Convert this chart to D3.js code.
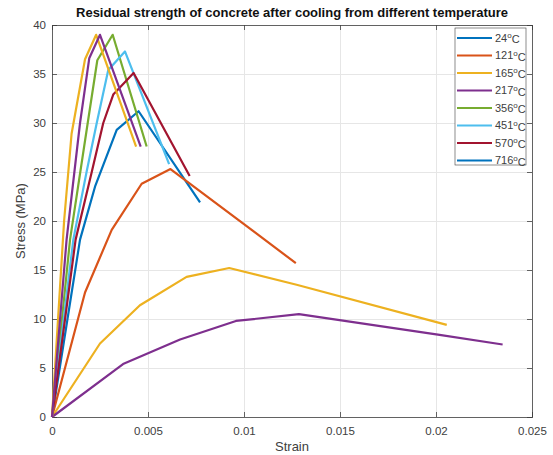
<!DOCTYPE html>
<html lang="en">

<head>
  <meta charset="UTF-8">
  <title>Residual strength of concrete</title>
  <script src="https://d3js.org/d3.v7.min.js"></script>
  <style>
    body { margin: 0; background: #fff; }
    text { font-family: 'Liberation Sans', Arial, sans-serif; }
  </style>
</head>

<body>
  <svg id='stress-strain' width=553 height=455></svg>

  <script>
    // stress-strain curves: [strain, stress (MPa)]
    const curveBlue = [[0, 0], [0.00146, 18.1], [0.00224, 23.5], [0.00337, 29.3], [0.00451, 31.2], [0.00771, 21.9]];
    const curveOrange = [[0, 0], [0.00172, 12.7], [0.00311, 19.1], [0.00467, 23.8], [0.00617, 25.3], [0.0127, 15.7]];
    const curveYellow = [[0, 0], [0.0025, 7.5], [0.00458, 11.4], [0.00701, 14.3], [0.00923, 15.2], [0.01274, 13.5], [0.02056, 9.4]];
    const curvePurple = [[0, 0], [0.0037, 5.4], [0.00667, 7.9], [0.00958, 9.8], [0.01286, 10.5], [0.0201, 8.4], [0.02347, 7.4]];
    const curveGreen = [[0, 0], [0.00094, 18.1], [0.00186, 30.0], [0.00236, 36.4], [0.00316, 39.0], [0.00493, 27.6]];
    const curveLightBlue = [[0, 0], [0.00111, 18.1], [0.0018, 25.0], [0.00233, 30.0], [0.00293, 35.4], [0.0038, 37.3], [0.0061, 25.8]];
    const curveDarkRed = [[0, 0], [0.00123, 18.1], [0.00207, 25.0], [0.00267, 30.0], [0.00319, 32.9], [0.00425, 35.1], [0.00717, 24.6]];
    const curveYellow2 = [[0, 0], [0.00063, 20.0], [0.00102, 28.9], [0.00172, 36.5], [0.0023, 39.0], [0.00438, 27.6]];
    const curvePurple2 = [[0, 0], [0.00076, 18.1], [0.00146, 30.0], [0.00194, 36.6], [0.0025, 39.0], [0.00462, 27.6]];

    // MATLAB default colour order
    const palette = ['#0072BD', '#D95319', '#EDB120', '#7E2F8E', '#77AC30', '#4DBEEE', '#A2142F'];

    const curves = [curveBlue, curveOrange, curveYellow, curvePurple, curveGreen, curveLightBlue, curveDarkRed, curveYellow2, curvePurple2];
    const curveColorIndex = [0, 1, 2, 3, 4, 5, 6, 2, 3];

    const legendLabels = ['24', '121', '165', '217', '356', '451', '570', '716'];
    const legendColorIndex = [0, 1, 2, 3, 4, 5, 6, 0];

    const xTicks = [0, 0.005, 0.01, 0.015, 0.02, 0.025];
    const yTicks = [0, 5, 10, 15, 20, 25, 30, 35, 40];

    //setting up the svg
    const svg = d3.select('svg#stress-strain');
    const margin = { top: 25, right: 21, bottom: 38, left: 52 };
    const width = +svg.attr('width');
    const height = +svg.attr('height');
    const chartWidth = width - margin.left - margin.right;
    const chartHeight = height - margin.top - margin.bottom;

    const xScale = d3.scaleLinear().domain([0, 0.025]).range([0, chartWidth]);
    const yScale = d3.scaleLinear().domain([0, 40]).range([chartHeight, 0]);

    const axisColor = '#404040';

    let annotations = svg.append('g').attr('id', 'annotations')
      .attr('transform', 'translate(' + margin.left + ', ' + margin.top + ')');
    let chartArea = svg.append('g').attr('id', 'lines')
      .attr('transform', 'translate(' + margin.left + ', ' + margin.top + ')');

    //gridlines
    annotations.append('g')
      .attr('class', 'x-gridlines')
      .attr('transform', 'translate(0, ' + chartHeight + ')')
      .call(d3.axisBottom(xScale).tickValues(xTicks).tickSize(-chartHeight).tickFormat(''))
      .call(g => g.select('.domain').remove())
      .selectAll('line').attr('stroke', '#e6e6e6');

    annotations.append('g')
      .attr('class', 'y-gridlines')
      .call(d3.axisLeft(yScale).tickValues(yTicks).tickSize(-chartWidth).tickFormat(''))
      .call(g => g.select('.domain').remove())
      .selectAll('line').attr('stroke', '#e6e6e6');

    //axes, ticks point inward like matlab
    let bottomAxis = annotations.append('g')
      .attr('class', 'x-axis')
      .attr('transform', 'translate(0, ' + chartHeight + ')')
      .call(d3.axisBottom(xScale).tickValues(xTicks).tickSize(-5).tickPadding(10).tickFormat(d3.format('')));

    let topAxis = annotations.append('g')
      .attr('class', 'x-axis-top')
      .call(d3.axisTop(xScale).tickValues(xTicks).tickSize(-5).tickFormat(''));

    let leftAxis = annotations.append('g')
      .attr('class', 'y-axis')
      .call(d3.axisLeft(yScale).tickValues(yTicks).tickSize(-5).tickPadding(6));

    let rightAxis = annotations.append('g')
      .attr('class', 'y-axis-right')
      .attr('transform', 'translate(' + chartWidth + ', 0)')
      .call(d3.axisRight(yScale).tickValues(yTicks).tickSize(-5).tickFormat(''));

    [bottomAxis, topAxis, leftAxis, rightAxis].forEach(ax => {
      ax.select('.domain').attr('stroke', axisColor).attr('stroke-width', 0.8);
      ax.selectAll('line').attr('stroke', axisColor).attr('stroke-width', 0.8);
      ax.selectAll('text').attr('fill', axisColor).style('font-size', '11.5px')
        .style('font-family', "'Liberation Sans', Arial, sans-serif");
    });

    //lines
    const line = d3.line().x(d => xScale(d[0])).y(d => yScale(d[1]));

    chartArea.selectAll('path.curve')
      .data(curves)
      .join('path')
      .attr('class', 'curve')
      .attr('d', d => line(d))
      .attr('fill', 'none')
      .attr('stroke', (d, i) => palette[curveColorIndex[i]])
      .attr('stroke-width', 2.2)
      .attr('stroke-linejoin', 'round');

    //title and axis labels
    svg.append('text')
      .attr('x', margin.left + chartWidth / 2)
      .attr('y', 17)
      .attr('text-anchor', 'middle')
      .style('font-weight', 'bold')
      .style('font-size', '13px')
      .attr('fill', '#111')
      .text('Residual strength of concrete after cooling from different temperature');

    svg.append('text')
      .attr('x', margin.left + chartWidth / 2)
      .attr('y', 451)
      .attr('text-anchor', 'middle')
      .style('font-size', '13px')
      .attr('fill', axisColor)
      .text('Strain');

    svg.append('text')
      .attr('transform', 'translate(25, ' + (margin.top + chartHeight / 2) + ') rotate(-90)')
      .attr('text-anchor', 'middle')
      .style('font-size', '13px')
      .attr('fill', axisColor)
      .text('Stress (MPa)');

    //legend
    const legendX = 455, legendY = 28, rowH = 17.5;
    let legend = svg.append('g').attr('id', 'legend');
    legend.append('rect')
      .attr('x', legendX)
      .attr('y', legendY)
      .attr('width', 71)
      .attr('height', 137)
      .attr('fill', '#fff')
      .attr('stroke', axisColor)
      .attr('stroke-width', 0.6);

    let rows = legend.selectAll('g.row')
      .data(legendLabels)
      .join('g')
      .attr('class', 'row')
      .attr('transform', (d, i) => 'translate(' + legendX + ', ' + (legendY + 10 + i * rowH) + ')');

    rows.append('line')
      .attr('x1', 2).attr('x2', 37)
      .attr('stroke', (d, i) => palette[legendColorIndex[i]])
      .attr('stroke-width', 2.2);

    let labels = rows.append('text')
      .attr('x', 40)
      .attr('dy', '0.36em')
      .style('font-size', '11px')
      .attr('fill', axisColor);
    labels.append('tspan').text(d => d);
    labels.append('tspan').attr('dy', '-0.45em').style('font-size', '8px').text('o');
    labels.append('tspan').attr('dy', '0.45em').text('C');
  </script>
</body>

</html>
